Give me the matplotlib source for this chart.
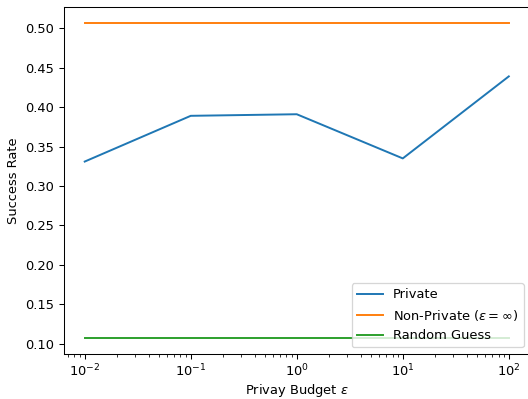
import matplotlib
matplotlib.use("Agg")
from matplotlib import pyplot as plt

# privacy budgets and attack success rates
epsilons = [1e-2, 1e-1, 1e0, 1e1, 1e2]
private = [0.331, 0.389, 0.391, 0.335, 0.439]
non_private = 0.507
random_guess = 0.107

dpi = 93.5
fig, ax = plt.subplots(figsize=(528 / dpi, 399 / dpi), dpi=dpi)
fig.subplots_adjust(left=0.1203, right=1.0038, bottom=0.1128, top=0.9825)
ax.plot(epsilons, private, label='Private')
ax.plot(epsilons, [non_private] * len(epsilons), label=r'Non-Private ($\varepsilon=\infty$)')
ax.plot(epsilons, [random_guess] * len(epsilons), label='Random Guess')
ax.set_xscale('log')
ax.set_xlabel(r'Privay Budget $\varepsilon$', labelpad=2)
ax.set_ylabel('Success Rate')
ax.legend(loc='lower right')

fig.savefig('out.png', dpi=dpi)
